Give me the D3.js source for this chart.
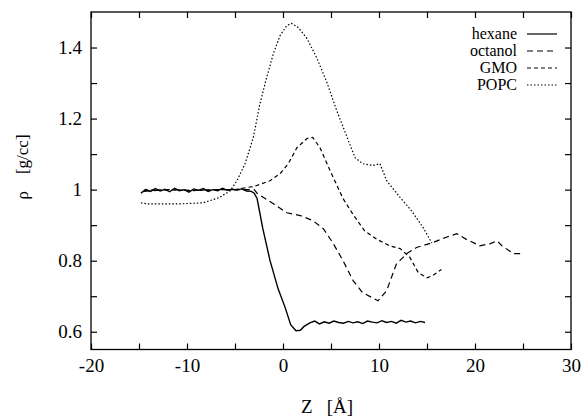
<!DOCTYPE html>
<html>
<head>
<meta charset="utf-8">
<script src="https://cdn.jsdelivr.net/npm/d3@7"></script>
<style>
  body { margin: 0; background: #fff; }
  svg text { font-family: 'Liberation Serif', 'DejaVu Serif', serif !important; }
</style>
</head>
<body>
<div id="chart"></div>
<script>
const width = 582;
const height = 418;
const margin = { top: 12, right: 11, bottom: 68.5, left: 91 };

const xTicks = [-20, -10, 0, 10, 20, 30];
const xMinorTicks = [-15, -5, 5, 15, 25];
const yTicks = [0.6, 0.8, 1, 1.2, 1.4];
const yMinorTicks = [0.7, 0.9, 1.1, 1.3];

// hexane (solid)
const hexaneZ = [-14.8, -14.3, -13.8, -13.3, -12.8, -12.3, -11.8, -11.3, -10.8, -10.3, -9.8, -9.3, -8.8, -8.3, -7.8, -7.3, -6.8, -6.3, -5.8, -5.3, -4.8, -4.3, -3.8, -3.3, -3.0, -2.7, -2.1, -1.35, -0.5, 0.2, 0.8, 1.35, 1.8, 2.2, 2.8, 3.3, 3.8, 4.3, 4.8, 5.3, 5.8, 6.3, 6.8, 7.3, 7.8, 8.3, 8.8, 9.3, 9.8, 10.3, 10.8, 11.3, 11.8, 12.3, 12.8, 13.3, 13.8, 14.3, 14.8];
const hexaneRho = [0.99, 1.0, 0.995, 1.003, 0.996, 1.001, 0.994, 1.004, 0.997, 1.0, 0.993, 1.002, 0.998, 1.003, 0.995, 1.0, 0.997, 1.004, 0.998, 1.001, 0.999, 1.002, 0.996, 0.995, 0.99, 0.975, 0.89, 0.8, 0.72, 0.67, 0.62, 0.603, 0.604, 0.615, 0.625, 0.63, 0.622, 0.628, 0.624, 0.63, 0.626, 0.624, 0.629, 0.625, 0.628, 0.623, 0.63, 0.627, 0.625, 0.631, 0.626, 0.629, 0.624, 0.632, 0.627, 0.63, 0.625, 0.629, 0.626];

// octanol (long dash)
const octanolZ = [-14.5, -12, -9.5, -7, -5, -3, -2.7, -1.0, 0.4, 1.8, 3.1, 4.2, 5.2, 6.25, 7.3, 8.3, 9.9, 10.8, 11.8, 12.9, 13.9, 15.5, 17.0, 18.1, 19.1, 20.5, 21.6, 22.3, 22.8, 24.0, 24.9];
const octanolRho = [0.995, 1.0, 0.998, 1.0, 1.0, 1.0, 0.99, 0.96, 0.935, 0.927, 0.913, 0.89, 0.85, 0.80, 0.744, 0.71, 0.687, 0.716, 0.79, 0.82, 0.837, 0.85, 0.866, 0.876, 0.86, 0.842, 0.848, 0.856, 0.842, 0.82, 0.82];

// GMO (short dash)
const gmoZ = [-14.5, -12, -9.5, -7, -5, -2.9, -1.35, -0.3, 0.55, 1.45, 2.5, 3.1, 3.85, 4.9, 6.25, 7.3, 8.5, 9.8, 11.1, 12.2, 13.2, 14.1, 15.0, 15.6, 16.5];
const gmoRho = [0.998, 1.0, 0.997, 1.0, 1.0, 1.01, 1.025, 1.045, 1.073, 1.118, 1.144, 1.147, 1.118, 1.054, 0.975, 0.93, 0.884, 0.86, 0.842, 0.834, 0.81, 0.766, 0.752, 0.758, 0.775];

// POPC (dotted)
const popcZ = [-14.8, -14.2, -10.7, -8.3, -6.6, -5.5, -4.8, -3.95, -3.1, -2.4, -1.7, -1.0, -0.3, 0.4, 0.9, 1.6, 2.5, 3.5, 4.6, 5.6, 6.7, 7.5, 8.3, 9.4, 10.1, 10.8, 12.2, 13.4, 14.6, 15.5];
const popcRho = [0.963, 0.96, 0.96, 0.963, 0.978, 0.997, 1.025, 1.073, 1.146, 1.242, 1.316, 1.383, 1.434, 1.462, 1.468, 1.456, 1.425, 1.372, 1.30, 1.222, 1.146, 1.09, 1.073, 1.068, 1.073, 1.025, 0.978, 0.94, 0.893, 0.85];

const seriesNames = ['hexane', 'octanol', 'GMO', 'POPC'];
const seriesZ = [hexaneZ, octanolZ, gmoZ, popcZ];
const seriesRho = [hexaneRho, octanolRho, gmoRho, popcRho];
const dashes = [null, '6,4', '4,3', '1.5,2'];

const svg = d3.select('#chart')
  .append('svg')
  .attr('width', width)
  .attr('height', height)
  .attr('font-family', 'Liberation Serif');

const x = d3.scaleLinear()
  .domain([-20, 30])
  .range([margin.left, width - margin.right]);

const y = d3.scaleLinear()
  .domain([0.55, 1.5])
  .range([height - margin.bottom, margin.top]);

const plotW = width - margin.left - margin.right;
const plotH = height - margin.top - margin.bottom;

// frame with inward ticks on all sides
const allX = xTicks.concat(xMinorTicks);
const allY = yTicks.concat(yMinorTicks);

const bottomAxis = svg.append('g')
  .attr('transform', `translate(0, ${y.range()[0]})`)
  .call(d3.axisBottom(x).tickValues(allX).tickSizeInner(-6).tickSizeOuter(0)
    .tickFormat(d => xTicks.includes(d) ? d : ''));
bottomAxis.selectAll('text').attr('dy', '1.05em');

svg.append('g')
  .attr('transform', `translate(0, ${margin.top})`)
  .call(d3.axisTop(x).tickValues(allX).tickSizeInner(-6).tickSizeOuter(0).tickFormat(''));

const leftAxis = svg.append('g')
  .attr('transform', `translate(${margin.left}, 0)`)
  .call(d3.axisLeft(y).tickValues(allY).tickSizeInner(-6).tickSizeOuter(0)
    .tickFormat(d => yTicks.includes(d) ? d3.format('')(d) : ''));
leftAxis.selectAll('text').attr('x', -9);

svg.append('g')
  .attr('transform', `translate(${width - margin.right}, 0)`)
  .call(d3.axisRight(y).tickValues(allY).tickSizeInner(-6).tickSizeOuter(0).tickFormat(''));

svg.selectAll('g').attr('font-family', null);
svg.selectAll('.domain').remove();
svg.selectAll('.tick line').attr('stroke', '#000').attr('stroke-width', 1.2);
svg.selectAll('.tick text')
  .attr('fill', '#000')
  .style('font-size', '19px');

svg.append('rect')
  .attr('x', margin.left)
  .attr('y', margin.top)
  .attr('width', plotW)
  .attr('height', plotH)
  .attr('fill', 'none')
  .attr('stroke', '#000')
  .attr('stroke-width', 1.3);

// axis titles
svg.append('text')
  .attr('x', 327)
  .attr('y', 413)
  .attr('text-anchor', 'middle')
  .style('font-size', '19px')
  .style('white-space', 'pre')
  .text('Z   [Å]');

svg.append('text')
  .attr('transform', 'translate(28, 167) rotate(-90)')
  .attr('text-anchor', 'middle')
  .style('font-size', '17px')
  .style('white-space', 'pre')
  .text('ρ    [g/cc]');

// curves
const line = d3.line()
  .x(d => x(d[0]))
  .y(d => y(d[1]));

seriesNames.forEach((name, i) => {
  const pts = seriesZ[i].map((z, j) => [z, seriesRho[i][j]]);
  svg.append('path')
    .datum(pts)
    .attr('d', line)
    .attr('fill', 'none')
    .attr('stroke', '#000')
    .attr('stroke-width', i === 0 ? 1.4 : 1.2)
    .attr('stroke-dasharray', dashes[i]);
});

// legend
const legend = svg.append('g');
seriesNames.forEach((name, i) => {
  const ly = 34 + i * 17;
  legend.append('text')
    .attr('x', 517)
    .attr('y', ly + 5)
    .attr('text-anchor', 'end')
    .style('font-size', '16px')
    .text(name);
  legend.append('line')
    .attr('x1', 527)
    .attr('x2', 557)
    .attr('y1', ly)
    .attr('y2', ly)
    .attr('stroke', '#000')
    .attr('stroke-width', 1.2)
    .attr('stroke-dasharray', dashes[i]);
});
</script>
</body>
</html>
